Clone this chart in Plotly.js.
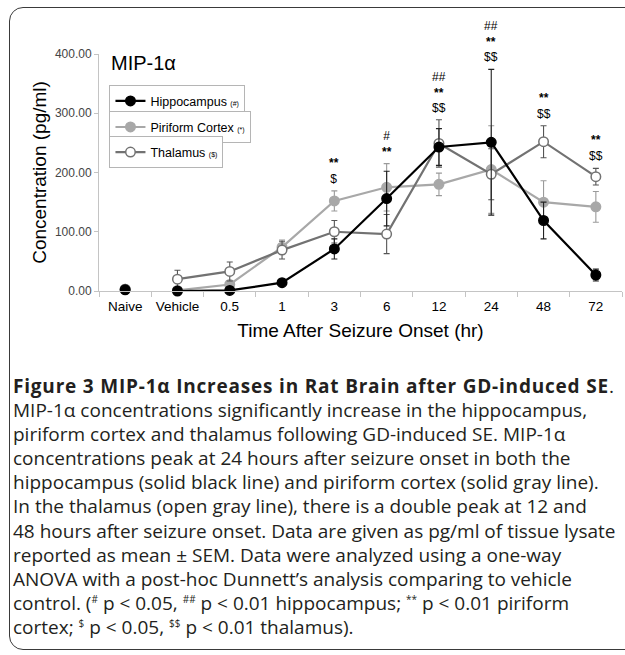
<!DOCTYPE html>
<html>
<head>
<meta charset="utf-8">
<script src="https://cdn.plot.ly/plotly-3.0.1.min.js"></script>
<style>
  html, body { margin:0; padding:0; background:#fff; width:625px; height:655px; overflow:hidden; }
  #frame { position:absolute; left:9px; top:7px; width:720px; height:641px; border:1.5px solid #3a3a3a; border-radius:14px; }
  #chart { position:absolute; left:0; top:0; width:625px; height:360px; }
  #caption { position:absolute; left:13px; top:374px; font-family:"Open Sans", "Noto Sans", sans-serif; font-size:19px; line-height:24.1px; color:#231f20; white-space:nowrap; }
  #caption .hd { font-weight:700; letter-spacing:0.8px; }
  #caption sup { font-size:10px; line-height:0; vertical-align:7px; }
</style>
</head>
<body>
<div id="frame"></div>
<div id="chart"></div>
<div id="caption">
<span class="hd">Figure 3 MIP-1α Increases in Rat Brain after GD-induced SE</span>.<br>
MIP-1α concentrations significantly increase in the hippocampus,<br>
piriform cortex and thalamus following GD-induced SE. MIP-1α<br>
concentrations peak at 24 hours after seizure onset in both the<br>
hippocampus (solid black line) and piriform cortex (solid gray line).<br>
In the thalamus (open gray line), there is a double peak at 12 and<br>
48 hours after seizure onset. Data are given as pg/ml of tissue lysate<br>
reported as mean ± SEM. Data were analyzed using a one-way<br>
ANOVA with a post-hoc Dunnett’s analysis comparing to vehicle<br>
control. (<sup>#</sup> p &lt; 0.05, <sup>##</sup> p &lt; 0.01 hippocampus; <sup>**</sup> p &lt; 0.01 piriform<br>
cortex; <sup>$</sup> p &lt; 0.05, <sup>$$</sup> p &lt; 0.01 thalamus).
</div>
<script>
// ---- data ----
const categories = ['Naive','Vehicle','0.5','1','3','6','12','24','48','72'];
const hippo    = [2, 0, 1, 14, 71, 156, 243, 251, 119, 27];
const hippoErr = [1, 1, 1, 3, 17, 46, 31, 123, 31, 10];
const piri     = [3, 1, 11, 74, 152, 175, 180, 205, 150, 142];
const piriErr  = [1, 1, 6, 12, 17, 40, 19, 74, 36, 26];
const thal     = [3, 20, 33, 69, 100, 96, 249, 197, 252, 193];
const thalErr  = [1, 15, 16, 15, 19, 33, 40, 43, 27, 14];
const sigHippo = ['', '', '', '', '', '#', '##', '##', '', ''];
const sigPiri  = ['', '', '', '', '**', '**', '**', '**', '**', '**'];
const sigThal  = ['', '', '', '', '$', '', '$$', '$$', '$$', '$$'];
const yTicks   = [0, 100, 200, 300, 400];
const seriesNames = ['Hippocampus', 'Piriform Cortex', 'Thalamus'];
const seriesTags  = ['(#)', '(*)', '($)'];

const cBlack = '#000000', cLight = '#a8a8a8', cDark = '#727272';
const FONT = 'Liberation Sans, Arial, sans-serif';
const esc = s => s.replace(/\$/g, '&#36;');

function series(name, tag, vals, errs, color, fill, errColor, legendId) {
  return [{
    type:'scatter', mode:'lines+markers',
    x: categories.slice(1), y: vals.slice(1),
    name: name + ' <span style="font-size:7px">' + esc(tag) + '</span>',
    legend: legendId,
    line:{color:color, width:2.2},
    marker:{size:9.5, color:fill, line:{color:color, width:1.5}},
    error_y:{type:'data', array: errs.slice(1), visible:true, color:errColor, thickness:1.1, width:3},
    cliponaxis:false
  },{
    type:'scatter', mode:'markers',
    x: categories.slice(0,1), y: vals.slice(0,1),
    showlegend:false,
    marker:{size:9.5, color:fill, line:{color:color, width:1.5}},
    error_y:{type:'data', array: errs.slice(0,1), visible:true, color:errColor, thickness:1.1, width:3},
    cliponaxis:false
  }];
}

const traces = [].concat(
  series(seriesNames[1], seriesTags[1], piri, piriErr, cLight, cLight, '#9a9a9a', 'legend2'),
  series(seriesNames[2], seriesTags[2], thal, thalErr, cDark, '#ffffff', '#555555', 'legend3'),
  series(seriesNames[0], seriesTags[0], hippo, hippoErr, cBlack, cBlack, '#222222', 'legend')
);

// significance labels stacked above the highest error bar at each category
const annotations = [];
categories.forEach((c, i) => {
  const lines = [];
  if (sigHippo[i]) lines.push(sigHippo[i]);
  if (sigPiri[i]) lines.push('<b>' + sigPiri[i] + '</b>');
  if (sigThal[i]) lines.push(esc(sigThal[i]));
  if (!lines.length) return;
  const top = Math.max(hippo[i] + hippoErr[i], piri[i] + piriErr[i], thal[i] + thalErr[i]);
  annotations.push({
    x: i, y: top, xref:'x', yref:'y', text: lines.join('<br>'),
    showarrow:false, yanchor:'bottom', yshift:3,
    font:{family:FONT, size:12, color:'#000'}
  });
});
annotations.push({
  x:0.02, y:1.0, xref:'paper', yref:'paper', xanchor:'left', yanchor:'top', yshift:4,
  text:'MIP-1α', showarrow:false,
  font:{family:FONT, size:20, color:'#000'}
});

const legendBase = {
  xanchor:'left', yanchor:'top', bgcolor:'#ffffff', bordercolor:'#b5b5b5', borderwidth:1,
  font:{family:FONT, size:12.5, color:'#000'},
  itemwidth:30, tracegroupgap:0
};

const layout = {
  width:625, height:360,
  margin:{l:99, r:3, t:54, b:68.5},
  paper_bgcolor:'rgba(0,0,0,0)', plot_bgcolor:'#ffffff',
  showlegend:true,
  legend: Object.assign({x:0.02, y:0.868}, legendBase),
  legend2: Object.assign({x:0.02, y:0.758}, legendBase),
  legend3: Object.assign({x:0.02, y:0.652}, legendBase),
  xaxis:{
    type:'category', categoryorder:'array', categoryarray:categories,
    range:[-0.5, categories.length - 0.5],
    showline:true, linecolor:'#c4c4c4', linewidth:1,
    ticks:'outside', tickson:'boundaries', ticklen:5, tickcolor:'#c4c4c4',
    ticklabelstandoff:3, tickangle:0,
    showgrid:false, zeroline:false,
    tickfont:{family:FONT, size:13.5, color:'#000'},
    title:{text:'Time After Seizure Onset (hr)', standoff:10,
      font:{family:FONT, size:19, color:'#000'}}
  },
  yaxis:{
    range:[0, 400], tickvals:yTicks, ticktext:yTicks.map(v => v.toFixed(2)),
    showline:true, linecolor:'#c4c4c4', linewidth:1,
    ticks:'outside', ticklen:4, tickcolor:'#c4c4c4',
    showgrid:false, zeroline:false,
    tickfont:{family:FONT, size:12, color:'#444'},
    title:{text:'Concentration (pg/ml)', standoff:3,
      font:{family:FONT, size:19, color:'#000'}}
  },
  annotations: annotations
};

Plotly.newPlot('chart', traces, layout, {displayModeBar:false, staticPlot:true});
</script>
</body>
</html>
